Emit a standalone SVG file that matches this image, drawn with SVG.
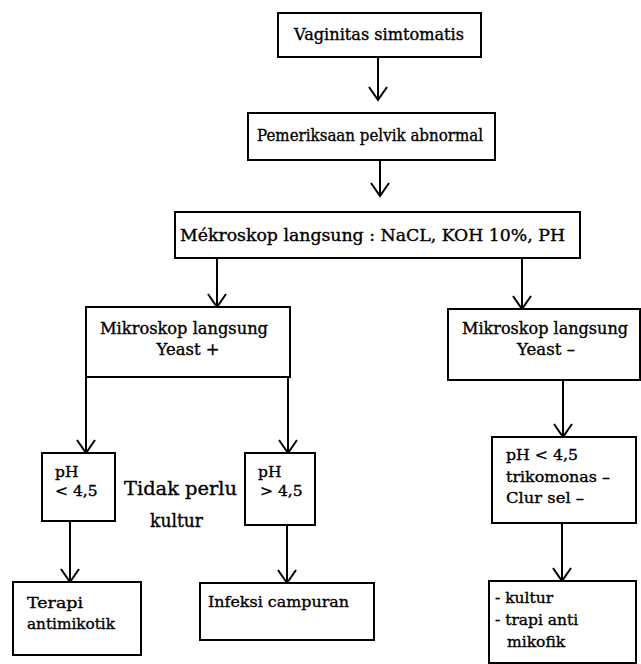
<svg xmlns="http://www.w3.org/2000/svg" width="641" height="664" viewBox="0 0 641 664">
<style>
  .box { fill: #fff; stroke: #000; stroke-width: 2; }
  .t { font-family: "DejaVu Serif", "Liberation Serif", serif; font-size: 16px; fill: #000; stroke: #000; stroke-width: 0.35; }
  .s { font-size: 15.5px; }
  .big { font-size: 19px; }
  .c { text-anchor: middle; }
  .ln { fill: none; stroke: #000; stroke-width: 2; }
</style>
<defs>
  <marker id="ah" markerUnits="userSpaceOnUse" markerWidth="30" markerHeight="30" viewBox="-15 -15 30 30" refX="0" refY="0" orient="auto" overflow="visible">
    <path d="M-13,-9 L0,0 L-13,9" fill="none" stroke="#000" stroke-width="2"/>
  </marker>
</defs>
<rect width="641" height="664" fill="#fff"/>

<g id="connectors">
  <line class="ln" x1="378" y1="57" x2="378" y2="100" marker-end="url(#ah)"/>
  <line class="ln" x1="380" y1="160" x2="380" y2="196" marker-end="url(#ah)"/>
  <line class="ln" x1="217" y1="258" x2="217" y2="307" marker-end="url(#ah)"/>
  <line class="ln" x1="522" y1="258" x2="522" y2="309" marker-end="url(#ah)"/>
  <line class="ln" x1="86" y1="377" x2="86" y2="453" marker-end="url(#ah)"/>
  <line class="ln" x1="288" y1="377" x2="288" y2="453" marker-end="url(#ah)"/>
  <line class="ln" x1="70" y1="521" x2="70" y2="582" marker-end="url(#ah)"/>
  <line class="ln" x1="287" y1="525" x2="287" y2="583" marker-end="url(#ah)"/>
  <line class="ln" x1="563" y1="380" x2="563" y2="437" marker-end="url(#ah)"/>
  <line class="ln" x1="562" y1="523" x2="562" y2="581" marker-end="url(#ah)"/>
</g>

<g id="n1">
  <rect class="box" x="278" y="13" width="203" height="44"/>
  <text class="t c" x="379" y="40" textLength="170" lengthAdjust="spacingAndGlyphs">Vaginitas simtomatis</text>
</g>
<g id="n2">
  <rect class="box" x="248" y="113" width="247" height="47"/>
  <text class="t c" x="370" y="141" textLength="226" lengthAdjust="spacingAndGlyphs">Pemeriksaan pelvik abnormal</text>
</g>
<g id="n3">
  <rect class="box" x="175" y="212" width="405" height="46"/>
  <text class="t" x="180" y="241" textLength="385" lengthAdjust="spacingAndGlyphs">Mékroskop langsung : NaCL, KOH 10%, PH</text>
</g>
<g id="n4">
  <rect class="box" x="86" y="307" width="204" height="70"/>
  <text class="t c" x="184" y="334" textLength="168" lengthAdjust="spacingAndGlyphs">Mikroskop langsung</text>
  <text class="t c" x="188" y="355" textLength="63" lengthAdjust="spacingAndGlyphs">Yeast +</text>
</g>
<g id="n5">
  <rect class="box" x="448" y="309" width="192" height="71"/>
  <text class="t c" x="545" y="334" textLength="166" lengthAdjust="spacingAndGlyphs">Mikroskop langsung</text>
  <text class="t c" x="546" y="355" textLength="58" lengthAdjust="spacingAndGlyphs">Yeast –</text>
</g>
<g id="n6">
  <rect class="box" x="42" y="453" width="73" height="68"/>
  <text class="t s" x="55" y="477">pH</text>
  <text class="t s" x="55" y="496">&lt; 4,5</text>
</g>
<g id="n7">
  <text class="t big" x="124" y="495" textLength="113" lengthAdjust="spacingAndGlyphs">Tidak perlu</text>
  <text class="t big" x="150" y="527" textLength="53" lengthAdjust="spacingAndGlyphs">kultur</text>
</g>
<g id="n8">
  <rect class="box" x="245" y="453" width="70" height="72"/>
  <text class="t s" x="258" y="477">pH</text>
  <text class="t s" x="260" y="496">&gt; 4,5</text>
</g>
<g id="n9">
  <rect class="box" x="492" y="437" width="144" height="86"/>
  <text class="t s" x="506" y="460" textLength="72" lengthAdjust="spacingAndGlyphs">pH &lt; 4,5</text>
  <text class="t s" x="506" y="482" textLength="104" lengthAdjust="spacingAndGlyphs">trikomonas –</text>
  <text class="t s" x="506" y="503" textLength="78" lengthAdjust="spacingAndGlyphs">Clur sel –</text>
</g>
<g id="n10">
  <rect class="box" x="13" y="582" width="128" height="73"/>
  <text class="t s" x="27" y="608" textLength="56" lengthAdjust="spacingAndGlyphs">Terapi</text>
  <text class="t s" x="27" y="629" textLength="88" lengthAdjust="spacingAndGlyphs">antimikotik</text>
</g>
<g id="n11">
  <rect class="box" x="200" y="583" width="174" height="57"/>
  <text class="t s" x="208" y="607" textLength="141" lengthAdjust="spacingAndGlyphs">Infeksi campuran</text>
</g>
<g id="n12">
  <rect class="box" x="489" y="581" width="147" height="82"/>
  <text class="t s" x="495" y="603">- kultur</text>
  <text class="t s" x="495" y="625">- trapi anti</text>
  <text class="t s" x="507" y="647">mikofik</text>
</g>
</svg>
